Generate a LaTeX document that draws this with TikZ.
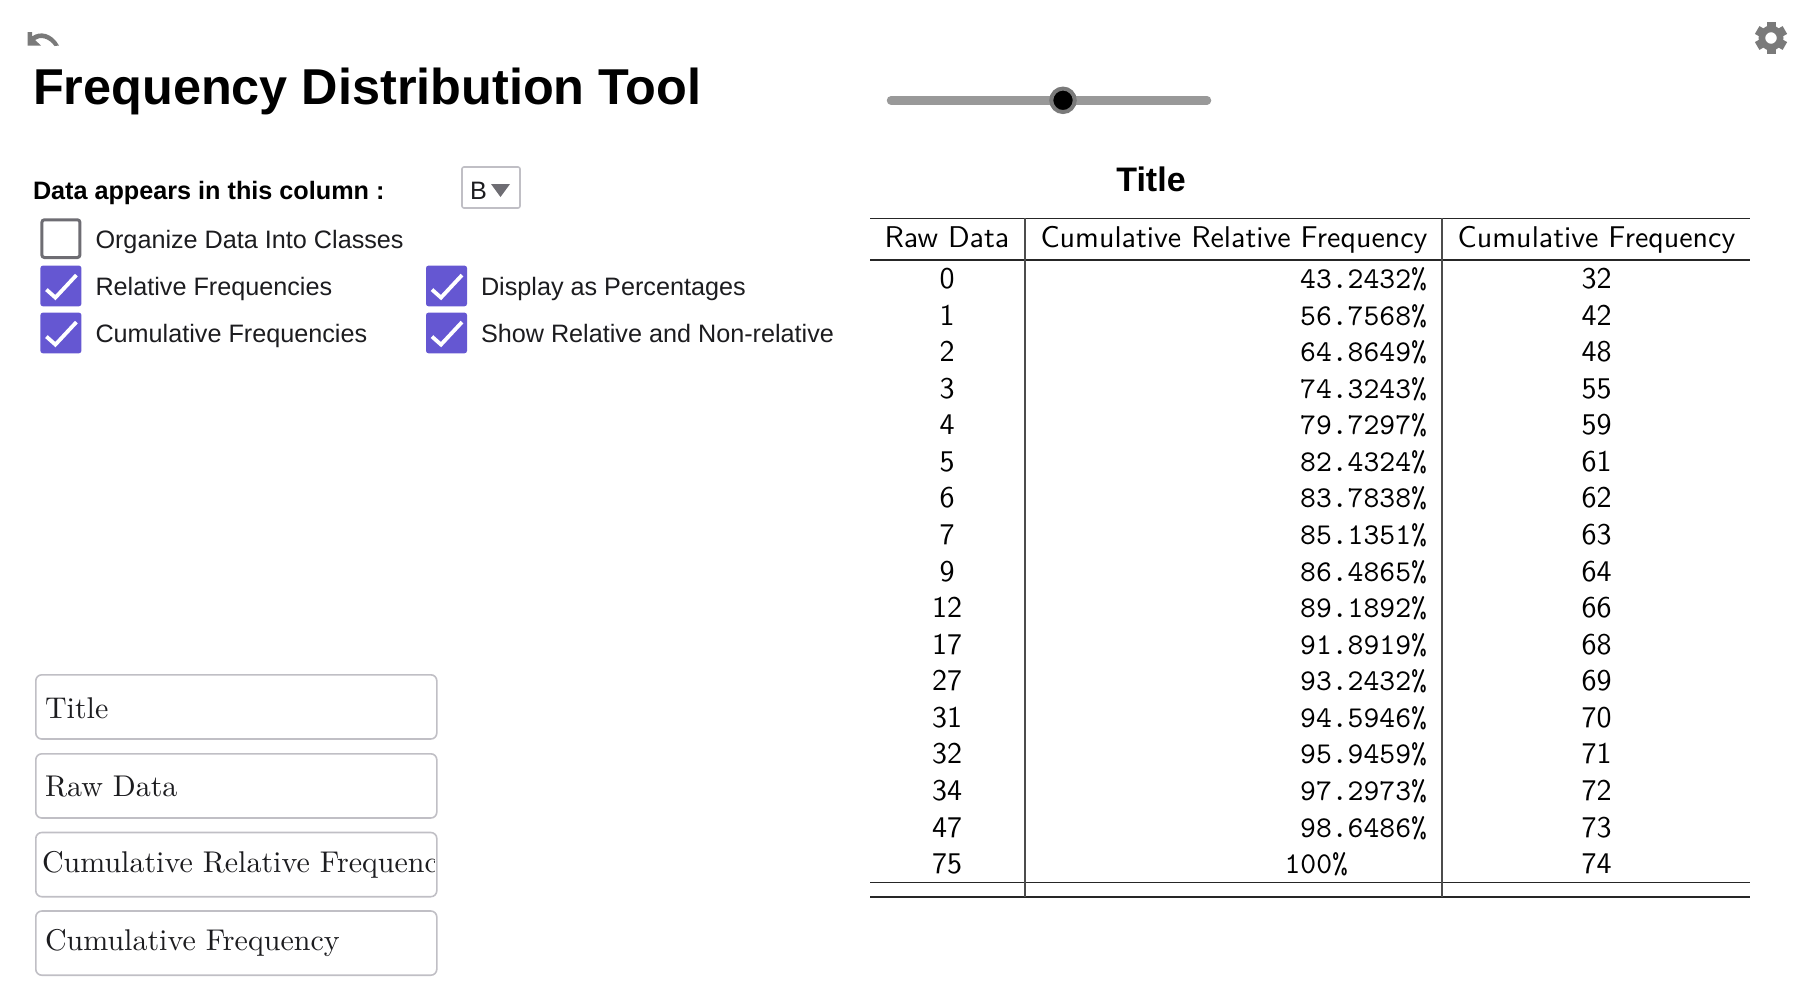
\documentclass[tikz,border=0pt]{standalone}
\usepackage{fontspec}
\usepackage{tikz}
\newfontfamily\uifont{Liberation Sans}
\newfontfamily\cellfont{lmsans10-regular}[Extension=.otf]
\newfontfamily\numfont{lmmono10-regular}[Extension=.otf]
\newfontfamily\inputfont{lmroman10-regular}[Extension=.otf]
\definecolor{ggbpurple}{HTML}{6557D2}
\definecolor{ggbgrey}{HTML}{6E6D73}
\definecolor{ggbborder}{HTML}{C0BFC5}
\definecolor{ggbtext}{HTML}{1C1C1F}
\definecolor{ggbicon}{HTML}{7A7A7A}
\tikzset{
  mainhead/.style={anchor=base west, inner sep=0, outer sep=0, font=\uifont\bfseries\fontsize{50.4}{50}\selectfont},
  columnhead/.style={anchor=base west, inner sep=0, outer sep=0, font=\uifont\bfseries\fontsize{25.2}{25}\selectfont},
  tablehead/.style={anchor=base, inner sep=0, outer sep=0, font=\uifont\bfseries\fontsize{34}{34}\selectfont},
  optlabel/.style={anchor=base west, inner sep=0, outer sep=0, text=ggbtext, font=\uifont\fontsize{25.2}{25}\selectfont},
  tickbox/.style={rectangle, rounded corners=2.5, inner sep=0, outer sep=0, minimum width=41, minimum height=40.7, anchor=north west, fill=ggbpurple},
  emptybox/.style={tickbox, fill=white, draw=ggbgrey, line width=3, minimum width=38, minimum height=37.7},
  tickline/.style={draw=white, line width=3.8},
  inputbox/.style={rectangle, rounded corners=6, inner sep=0, outer sep=0, minimum width=401, minimum height=64.2, anchor=north west, draw=ggbborder, line width=1.6},
  inputtext/.style={anchor=base west, inner sep=0, outer sep=0, text=ggbtext, font=\inputfont\fontsize{30}{30}\selectfont},
  cell/.style={anchor=base, inner sep=0, outer sep=0, font=\cellfont\fontsize{30}{30}\selectfont},
  pcell/.style={anchor=base east, inner sep=0, outer sep=0, font=\numfont\fontsize{30.2}{30}\selectfont},
  rulethick/.style={line width=1.6, black!85},
  rulethin/.style={line width=1.1, black!70}
}
\newcommand{\ticked}[3]{
  \node[tickbox] (#1) at (#2,#3) {};
  \draw[tickline] ([shift={(6,24)}]#1.north west) -- ([shift={(15,32)}]#1.north west) -- ([shift={(36,9.5)}]#1.north west);
}
\begin{document}
\begin{tikzpicture}[x=1pt,y=-1pt]
\useasboundingbox (0,0) rectangle (1798,988);
% undo and settings
\fill[ggbicon] (27.5,32) -- (32,32) -- (32,36.5) .. controls (40,30.5) and (52,33) .. (59,45.5) -- (54.5,46) .. controls (49,38) and (40,36) .. (35,40) -- (41,45.5) -- (27.5,45.5) -- cycle;
\coordinate (gear) at (1771,38);
\fill[ggbicon, even odd rule] (gear) circle (12.5) (gear) circle (5.8);
\foreach \a in {30,90,...,330}
  \fill[ggbicon, shift={(gear)}, rotate=\a] (11,-4.5) rectangle (16,4.5);
% heading
\node[mainhead] (heading) at (33,104) {Frequency Distribution Tool};
\draw[line width=8.5, line cap=round, black!40] (891,100.3) coordinate (sliderleft) -- (1207,100.3) coordinate (sliderright);
\node[circle, fill=black, draw=ggbicon, line width=4, minimum size=23.5, inner sep=0, outer sep=0] (knob) at (1063,100.3) {};
% left panel
\node[columnhead] (datacol) at (33,199) {Data appears in this column :};
\node[rectangle, rounded corners=2, draw=ggbborder, line width=1.6, minimum width=58, minimum height=41, inner sep=0, outer sep=0, anchor=north west] (dropdown) at (462,167) {};
\node[optlabel] (dropval) at (470,199) {B};
\fill[ggbgrey] (491,184) -- (510,184) -- (500.5,197) -- cycle;
\node[emptybox] (boxclasses) at (41.9,219.8) {};
\node[optlabel] (optclasses) at (95.5,248) {Organize Data Into Classes};
\ticked{boxrel}{40.4}{265.6}
\node[optlabel] (optrel) at (95.5,295.3) {Relative Frequencies};
\ticked{boxcum}{40.4}{312.6}
\node[optlabel] (optcum) at (95.5,342.6) {Cumulative Frequencies};
\ticked{boxpct}{426}{265.6}
\node[optlabel] (optpct) at (481,295.3) {Display as Percentages};
\ticked{boxboth}{426}{312.6}
\node[optlabel] (optboth) at (481,342.6) {Show Relative and Non-relative};
% input boxes
\node[inputbox] (inputa) at (35.8,674.8) {};
\node[inputtext] (texta) at (45,718) {Title};
\node[inputbox] (inputb) at (35.8,753.8) {};
\node[inputtext] (textb) at (45,796.3) {Raw Data};
\node[inputbox] (inputc) at (35.8,832.5) {};
\begin{scope}
  \clip (35,832) rectangle (434,897);
  \node[inputtext] (textc) at (42,872.7) {Cumulative Relative Frequency};
\end{scope}
\node[inputbox] (inputd) at (35.8,911) {};
\node[inputtext] (textd) at (45,950.8) {Cumulative Frequency};
% table
\node[tablehead] (tabletitle) at (1151,191) {Title};
\draw[rulethick] (870,218.5) -- (1750,218.5);
\draw[rulethick] (870,260) -- (1750,260);
\draw[rulethick] (870,882.3) -- (1750,882.3);
\draw[rulethick] (870,897) -- (1750,897);
\draw[rulethin] (1025,218) -- (1025,897);
\draw[rulethin] (1442,218) -- (1442,897);
\node[cell] (headraw) at (947,247) {Raw Data};
\node[cell] (headrel) at (1234,247) {Cumulative Relative Frequency};
\node[cell] (headcum) at (1596.5,247) {Cumulative Frequency};
\foreach \raw/\rel/\cum [count=\i from 0] in {0/43.2432/32,1/56.7568/42,2/64.8649/48,3/74.3243/55,4/79.7297/59,5/82.4324/61,6/83.7838/62,7/85.1351/63,9/86.4865/64,12/89.1892/66,17/91.8919/68,27/93.2432/69,31/94.5946/70,32/95.9459/71,34/97.2973/72,47/98.6486/73}{
  \node[cell] (raw\i) at (947,288.6+36.56*\i) {\raw};
  \node[pcell] (rel\i) at (1427,288.6+36.56*\i) {\rel\%};
  \node[cell] (cum\i) at (1596.5,288.6+36.56*\i) {\cum};
}
\node[cell] (raw16) at (947,873.5) {75};
\node[pcell] (rel16) at (1348,873.5) {100\%};
\node[cell] (cum16) at (1596.5,873.5) {74};
\end{tikzpicture}
\end{document}
